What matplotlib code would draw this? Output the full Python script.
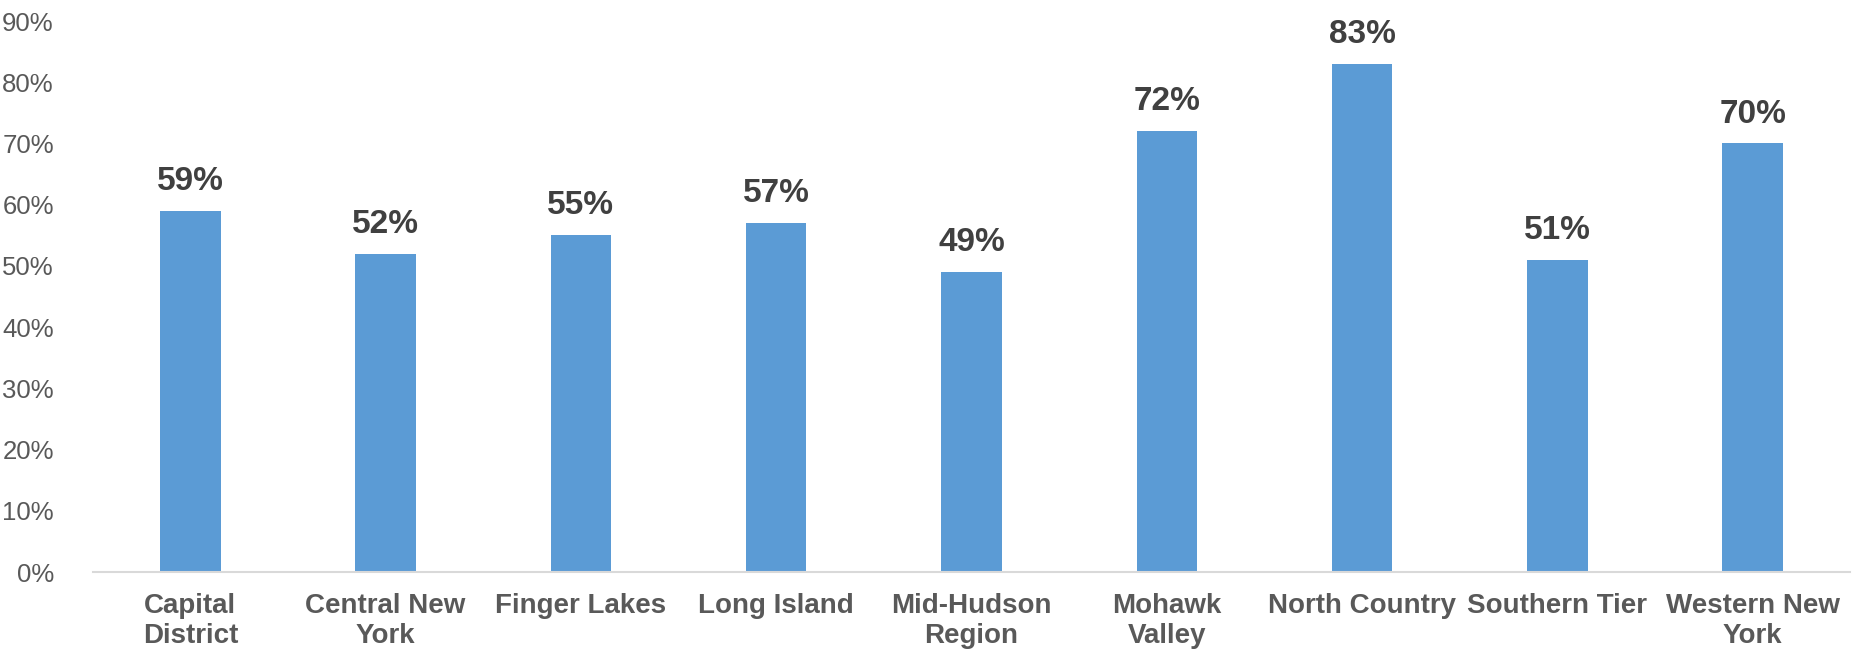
import matplotlib
matplotlib.use('Agg')
import matplotlib.pyplot as plt
from matplotlib.ticker import PercentFormatter

regions = ['Capital\nDistrict', 'Central New\nYork', 'Finger Lakes', 'Long Island',
           'Mid-Hudson\nRegion', 'Mohawk\nValley', 'North Country', 'Southern Tier',
           'Western New\nYork']
shares = [59, 52, 55, 57, 49, 72, 83, 51, 70]
yticks = [0, 10, 20, 30, 40, 50, 60, 70, 80, 90]

plt.rcParams['font.family'] = ['Liberation Sans', 'DejaVu Sans']

fig = plt.figure(figsize=(18.54, 6.49), dpi=100)
ax = fig.add_axes([0.050, 0.1186, 0.948, 0.849])

x = range(len(regions))
ax.bar(x, shares, width=0.31, color='#5B9BD5', zorder=2)

for xi, v in zip(x, shares):
    ax.annotate(f'{v}%', (xi, v), xytext=(0, 10), textcoords='offset points',
                ha='center', va='bottom', fontsize=24, fontweight='bold',
                color='#404040')

ax.set_xlim(-0.5, len(regions) - 0.5)
ax.set_ylim(0, 90)
ax.set_yticks(yticks)
ax.yaxis.set_major_formatter(PercentFormatter(decimals=0))
ax.set_xticks(list(x))
ax.set_xticklabels(regions, fontsize=20, fontweight='bold', color='#595959',
                   linespacing=1.2, va='top')
ax.tick_params(axis='x', length=0, pad=15)
ax.tick_params(axis='y', length=0, pad=28, labelsize=18.5, labelcolor='#595959')

for side in ['top', 'right', 'left']:
    ax.spines[side].set_visible(False)
ax.spines['bottom'].set_color('#D9D9D9')
ax.spines['bottom'].set_linewidth(1.5)

fig.savefig('out.png', dpi=100)
